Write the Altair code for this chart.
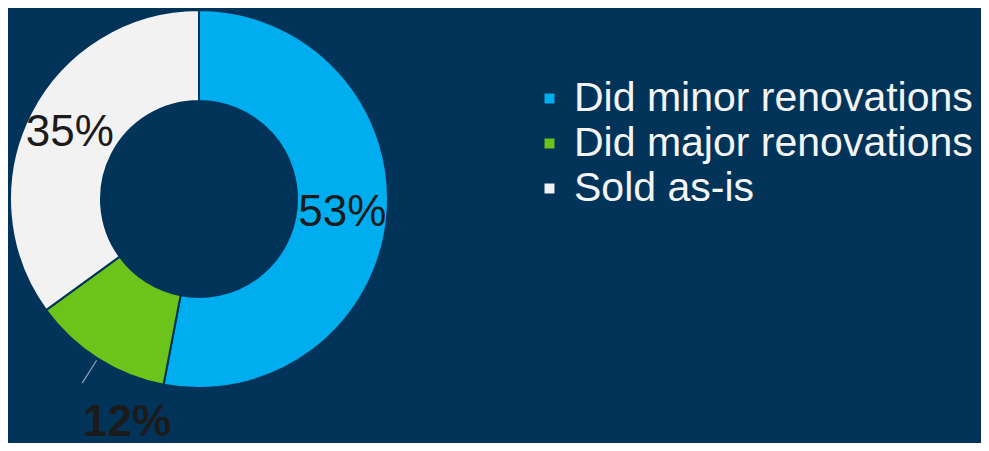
import altair as alt
import pandas as pd

categories = ["Did minor renovations", "Did major renovations", "Sold as-is"]
shares = [53, 12, 35]
labels = ["53%", "12%", "35%"]
ranks = [1, 2, 3]
colors = ["#00aeef", "#6cc41a", "#f2f2f2"]

BG = "#02345a"
FONT = "Liberation Sans"

df = pd.DataFrame({"category": categories, "share": shares, "label": labels, "rank": ranks})

theta_scale = alt.Scale(domain=[0, 100])

donut = alt.Chart(df).mark_arc(
    outerRadius=189, innerRadius=98, stroke=BG, strokeWidth=2
).encode(
    theta=alt.Theta("share:Q", stack=True, scale=theta_scale),
    order=alt.Order("rank:O"),
    color=alt.Color(
        "category:N",
        sort=categories,
        scale=alt.Scale(domain=categories, range=colors),
        legend=alt.Legend(
            title=None,
            orient="none",
            legendX=521,
            legendY=70,
            symbolType="square",
            symbolSize=120,
            symbolStrokeColor=BG,
            symbolStrokeWidth=1,
            labelFont=FONT,
            labelFontSize=41,
            labelColor="#f4f4f4",
            labelLimit=600,
            labelOffset=4,
            rowPadding=3,
        ),
    ),
)

base = alt.Chart(df).transform_window(
    cum="sum(share)", sort=[alt.SortField("rank")], frame=[None, 0]
).transform_calculate(mid="datum.cum - datum.share / 2")

leader = base.transform_filter(alt.datum.label == "12%").transform_calculate(
    t1="datum.mid - 0.05", t2="datum.mid + 0.05"
).mark_arc(outerRadius=218, innerRadius=191, color="#8a9db0").encode(
    theta=alt.Theta("t1:Q", scale=theta_scale, stack=None),
    theta2="t2:Q",
)


def pct_label(lbl, radius, dx=0, dy=0, weight="normal"):
    return base.transform_filter(alt.datum.label == lbl).mark_text(
        radius=radius, dx=dx, dy=dy, font=FONT, fontSize=44, fontWeight=weight,
        color="#1b1b1b", align="center", baseline="middle",
    ).encode(
        theta=alt.Theta("mid:Q", scale=theta_scale, stack=None),
        text="label:N",
    )


t53 = pct_label("53%", 144)
t35 = pct_label("35%", 145)
t12 = pct_label("12%", 250, dx=62, dy=13, weight="bold")

chart = alt.layer(donut, leader, t53, t35, t12).properties(
    width=382,
    height=382,
    padding={"left": 0, "top": 0, "right": 591, "bottom": 53},
    autosize=alt.AutoSizeParams(type="none"),
    background=BG,
).configure_view(stroke=None)

chart.save("out.html", embed_options={"renderer": "svg", "actions": False})
